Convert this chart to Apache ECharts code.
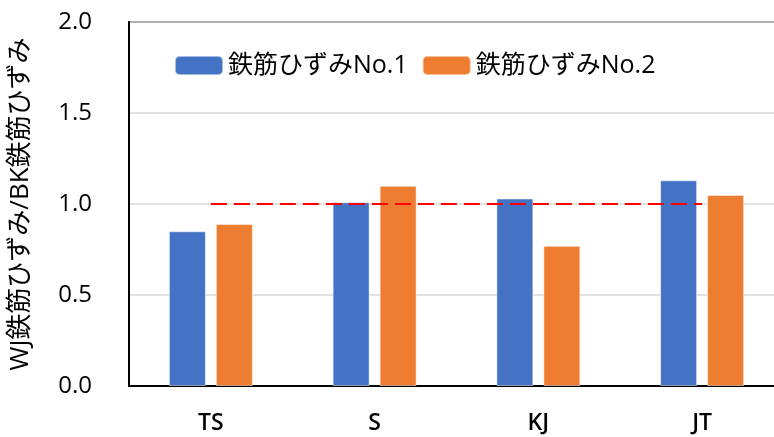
<!DOCTYPE html>
<html>
<head>
<meta charset="utf-8">
<script src="https://cdn.jsdelivr.net/npm/echarts@6/dist/echarts.min.js"></script>
<style>
html,body{margin:0;padding:0;background:#fff;overflow:hidden;width:774px;height:437px;}
#chart{width:800px;height:437px;}
</style>
</head>
<body>
<div id="chart"></div>
<script>
const categories = ['TS', 'S', 'KJ', 'JT'];
const series1Name = '鉄筋ひずみNo.1';
const series2Name = '鉄筋ひずみNo.2';
const series1 = [0.85, 1.01, 1.03, 1.13];
const series2 = [0.89, 1.10, 0.77, 1.05];
const refLine = [1.0, 1.0, 1.0, 1.0];
const yTitle = 'WJ鉄筋ひずみ/BK鉄筋ひずみ';

const FONT = "'Open Sans', 'Noto Sans CJK JP', sans-serif";
const chart = echarts.init(document.getElementById('chart'), null, {renderer: 'canvas'});
chart.setOption({
  animation: false,
  backgroundColor: '#fff',
  grid: {
    left: 128, top: 22, right: 16, bottom: 51,
    show: true, borderColor: '#000', borderWidth: 1.5, backgroundColor: 'transparent'
  },
  legend: {
    data: [series1Name, series2Name],
    left: 169, top: 48,
    itemWidth: 48, itemHeight: 19, itemGap: 14,
    textStyle: {fontFamily: FONT, fontSize: 25, color: '#000'}
  },
  xAxis: {
    type: 'category',
    data: categories,
    axisLine: {lineStyle: {color: '#000', width: 2}},
    axisTick: {inside: true, length: 8, lineStyle: {color: '#000', width: 2}},
    axisLabel: {fontFamily: FONT, fontSize: 23, fontWeight: 600, color: '#000', margin: 26}
  },
  yAxis: {
    type: 'value',
    min: 0, max: 2, interval: 0.5,
    name: yTitle,
    nameLocation: 'middle',
    nameGap: 95,
    nameTextStyle: {fontFamily: FONT, fontSize: 26, color: '#000'},
    axisLine: {show: true, lineStyle: {color: '#000', width: 2}},
    axisTick: {show: false},
    axisLabel: {fontFamily: FONT, fontSize: 24, color: '#000', margin: 37,
      formatter: v => v.toFixed(1)},
    splitLine: {lineStyle: {color: '#d9d9d9', width: 1.5}}
  },
  series: [
    {name: series1Name, type: 'bar', data: series1, barWidth: 37, barGap: '27%',
     itemStyle: {color: '#4472C4', borderColor: 'rgba(255,255,255,0.5)', borderWidth: 1}},
    {name: series2Name, type: 'bar', data: series2, barWidth: 37,
     itemStyle: {color: '#ED7D31', borderColor: 'rgba(255,255,255,0.5)', borderWidth: 1}},
    {name: 'ref', type: 'line', data: refLine, symbol: 'none', silent: true, z: 5,
     lineStyle: {color: '#FF0000', width: 2, type: [16, 7]}}
  ]
});
</script>
</body>
</html>
